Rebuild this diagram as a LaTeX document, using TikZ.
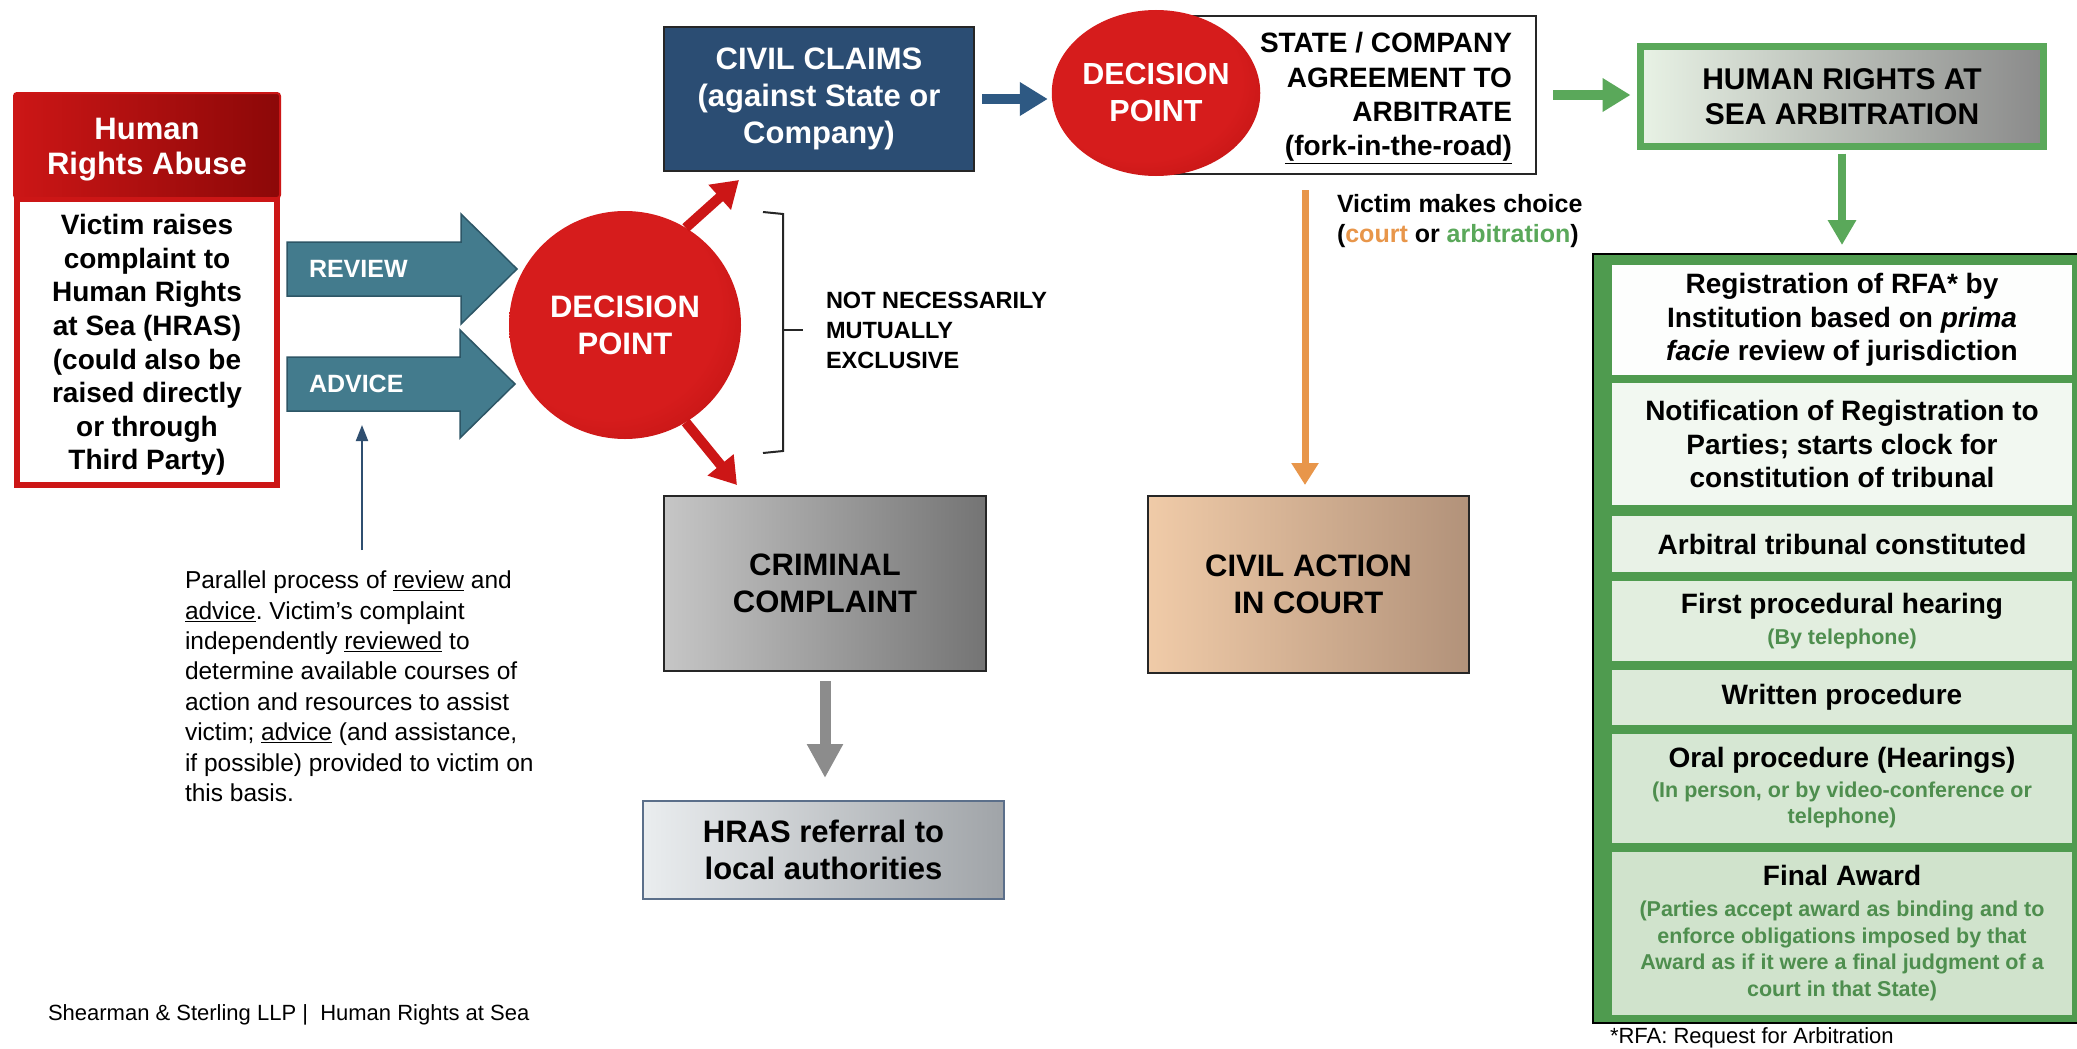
\documentclass[tikz,border=0pt]{standalone}
\usepackage{fontspec}
\setmainfont{Liberation Sans}
\usetikzlibrary{shapes.geometric,arrows.meta,calc}
\frenchspacing
\newcommand\myfs[2]{\fontsize{#1pt}{#2pt}\selectfont}
\definecolor{hrared}{HTML}{CC1616}
\definecolor{hradark}{HTML}{8C0808}
\definecolor{dpin}{HTML}{D61C1C}
\definecolor{dpout}{HTML}{A00707}
\definecolor{arrteal}{HTML}{437B8D}
\definecolor{arrtealdk}{HTML}{2D5666}
\definecolor{ccblue}{HTML}{2B4D73}
\definecolor{blarrow}{HTML}{2E5983}
\definecolor{grn}{HTML}{5AA85A}
\definecolor{grnframe}{HTML}{4F9B4F}
\definecolor{grntext}{HTML}{4E8E4E}
\definecolor{orng}{HTML}{E8964A}
\definecolor{annot}{HTML}{2F4F70}
\definecolor{refborder}{HTML}{5B6F8A}
\definecolor{arbL}{HTML}{E8F2E5}
\definecolor{arbR}{HTML}{8A8A8A}
\definecolor{crtL}{HTML}{F0CBA8}
\definecolor{crtR}{HTML}{B2927A}
\definecolor{crimL}{HTML}{C6C6C6}
\definecolor{crimR}{HTML}{747474}
\definecolor{refL}{HTML}{EAEDEF}
\definecolor{refR}{HTML}{A0A4A8}
\definecolor{rowa}{HTML}{FDFEFD}
\definecolor{rowb}{HTML}{F2F8F1}
\definecolor{rowc}{HTML}{E9F2E7}
\definecolor{rowd}{HTML}{E2EEDF}
\definecolor{rowe}{HTML}{DCEAD9}
\definecolor{rowf}{HTML}{D6E7D3}
\definecolor{rowg}{HTML}{D0E3CC}
\pgfdeclareradialshading{dpshade}{\pgfpoint{-6bp}{6bp}}{color(0bp)=(dpin); color(24bp)=(dpin); color(50bp)=(dpout); color(60bp)=(dpout)}
\newcommand\subt[1]{{\color{grntext}\myfs{21.5}{26}#1}}
\tikzset{
  capbox/.style={draw=black!85, line width=2pt, font=\bfseries\myfs{31}{36.5}, align=center},
  dp/.style={ellipse, shade, shading=dpshade, text=white, font=\bfseries\myfs{31}{37}, align=center},
  blkarrow/.style={fill=arrteal, draw=arrtealdk, line width=1.5pt},
  rowbox/.style={minimum width=460pt, font=\bfseries\myfs{28}{33.5}, align=center},
  redarr/.style={draw=hrared, line width=10pt, -{Triangle[width=32pt,length=26pt]}},
  bluarr/.style={draw=blarrow, line width=10pt, -{Triangle[width=32pt,length=28pt]}},
  grnarr/.style={draw=grn, line width=10pt, -{Triangle[width=32pt,length=28pt]}},
  grnarrv/.style={draw=grn, line width=8pt, -{Triangle[width=27pt,length=25pt]}},
  orarr/.style={draw=orng, line width=7pt, -{Triangle[width=26pt,length=22pt]}},
  gryarr/.style={draw=black!45, line width=11pt, -{Triangle[width=34pt,length=34pt]}},
  annarr/.style={draw=annot, line width=2pt, -{Triangle[width=12pt,length=16pt]}},
}
\begin{document}
\begin{tikzpicture}[x=1pt, y=-1pt, every node/.style={inner sep=0pt, outer sep=0pt}]
\useasboundingbox (0,0) rectangle (2077,1049);
\fill[white] (0,0) rectangle (2077,1049);

% Human rights abuse box
\node[draw=hrared, line width=6pt, fill=white, minimum width=260pt, minimum height=286pt] (hrabody) at (147,342) {};
\node[draw=hrared, line width=2pt, rounded corners=3pt, left color=hrared, right color=hradark, minimum width=266pt, minimum height=105pt] (hrahead) at (147,145.5) {};
\node[font=\bfseries\myfs{31}{35}, text=white, align=center] (hratitle) at (147,150) {Human\\Rights Abuse};
\node[font=\bfseries\myfs{28}{33.6}, align=center] (hratext) at (147,345) {Victim raises\\complaint to\\Human Rights\\at Sea (HRAS)\\(could also be\\raised directly\\or through\\Third Party)};

% Review / advice block arrows
\draw[blkarrow] (287,242) -- (461,242) -- (461,214) -- (517,269) -- (461,324) -- (461,296) -- (287,296) -- cycle;
\draw[blkarrow] (287,357) -- (460,357) -- (460,330) -- (515,384) -- (460,438) -- (460,411) -- (287,411) -- cycle;
\node[font=\bfseries\myfs{25}{30}, text=white, anchor=west] (rev) at (309,269) {REVIEW};
\node[font=\bfseries\myfs{25}{30}, text=white, anchor=west] (adv) at (309,384) {ADVICE};

% Decision point 1
\node[dp, minimum width=232pt, minimum height=228pt] (dp1) at (625,325) {DECISION\\POINT};

% annotation
\node[font=\myfs{24.5}{30.4}, align=left, anchor=north west] (ann) at (185,571) {Parallel process of \underline{review} and\\\underline{advice}. Victim’s complaint\\independently \underline{reviewed} to\\determine available courses of\\action and resources to assist\\victim; \underline{advice} (and assistance,\\if possible) provided to victim on\\this basis.};
\coordinate (aS) at (362,550);
\coordinate (advB) at (362,411);
\draw[annarr, shorten >=14pt] (aS) -- (advB);

% civil claims, criminal complaint, red arrows
\node[capbox, fill=ccblue, text=white, minimum width=310pt, minimum height=144pt, font=\bfseries\myfs{31}{37}] (cc) at (819,99) {CIVIL CLAIMS\\(against State or\\Company)};
\node[capbox, left color=crimL, right color=crimR, minimum width=322pt, minimum height=175pt] (crim) at (825,583.5) {CRIMINAL\\COMPLAINT};
\coordinate (t1) at (739,180);
\coordinate (t2) at (737,485);
\draw[redarr] (dp1.58) -- (t1);
\draw[redarr] (dp1.-58) -- (t2);

% bracket
\draw[black!85, line width=2pt] (763,212) -- (783,214) -- (783,451) -- (763,453);
\draw[black!85, line width=2pt] (783,330) -- (803,330);
\node[font=\bfseries\myfs{23.5}{30}, align=left, anchor=west] (nne) at (826,330) {NOT NECESSARILY\\MUTUALLY\\EXCLUSIVE};

% referral
\node[capbox, draw=refborder, left color=refL, right color=refR, minimum width=361pt, minimum height=98pt] (ref) at (823.5,850) {HRAS referral to\\local authorities};
\draw[gryarr, shorten <=10pt, shorten >=23pt] (crim.south) -- (crim.south |- ref.north);

% state / company + decision 2
\node[draw=black!85, line width=2pt, fill=white, minimum width=375pt, minimum height=158pt] (stbox) at (1348.5,95) {};
\node[font=\bfseries\myfs{28}{34.3}, align=right, anchor=east] (sttext) at (1512,98) {STATE / COMPANY\\AGREEMENT TO\\ARBITRATE\\\underline{(fork-in-the-road)}};
\node[dp, minimum width=188pt, minimum height=166pt, font=\bfseries\myfs{30.5}{37}] (dp2) at (1156,93) {DECISION\\POINT};
\draw[bluarr, shorten <=8pt, shorten >=4pt] (cc.east) -- (cc.east -| dp2.west);

% court
\node[capbox, left color=crtL, right color=crtR, minimum width=321pt, minimum height=177pt] (court) at (1308.5,584.5) {CIVIL ACTION\\IN COURT};
\node[font=\bfseries\myfs{25}{30}, align=left, anchor=west] (choice) at (1337,221) {Victim makes choice\\(\textcolor{orng}{court} or \textcolor{grn}{arbitration})};
\coordinate (oS) at (1305,190);
\draw[orarr, shorten >=11pt] (oS) -- (oS |- court.north);

% arbitration
\node[draw=grn, line width=7pt, left color=arbL, right color=arbR, minimum width=403pt, minimum height=100pt, font=\bfseries\myfs{30}{35}, align=center] (arb) at (1842,96.5) {HUMAN RIGHTS AT\\SEA ARBITRATION};
\draw[grnarr, shorten <=17pt, shorten >=10pt] (stbox.east) -- (stbox.east -| arb.west);

\node[fill=grnframe, draw=black, line width=1.5pt, minimum width=507pt, minimum height=769pt] (lst) at (1846.5,638.5) {};
\draw[grnarrv, shorten <=7pt, shorten >=9pt] (arb.south) -- (arb.south |- lst.north);

\node[rowbox, fill=rowa, minimum height=110pt] (r1) at (1842,320) {Registration of RFA* by\\Institution based on \textit{prima}\\\textit{facie} review of jurisdiction};
\node[rowbox, fill=rowb, minimum height=122pt] (r2) at (1842,444) {Notification of Registration to\\Parties; starts clock for\\constitution of tribunal};
\node[rowbox, fill=rowc, minimum height=56pt] (r3) at (1842,544) {Arbitral tribunal constituted};
\node[rowbox, fill=rowd, minimum height=80pt] (r4) at (1842,621) {First procedural hearing\\[-2pt]\subt{(By telephone)}};
\node[rowbox, fill=rowe, minimum height=55pt] (r5) at (1842,697.5) {Written procedure};
\node[rowbox, fill=rowf, minimum height=109pt] (r6) at (1842,788) {Oral procedure (Hearings)\\[-4pt]\subt{(In person, or by video-conference or}\\[-7pt]\subt{telephone)}};
\node[rowbox, fill=rowg, minimum height=163pt] (r7) at (1842,933) {Final Award\\[-2pt]\subt{(Parties accept award as binding and to}\\[-7pt]\subt{enforce obligations imposed by that}\\[-7pt]\subt{Award as if it were a final judgment of a}\\[-7pt]\subt{court in that State)}};

% footers
\node[font=\myfs{22}{26}, anchor=west] (foot) at (48,1015) {Shearman \& Sterling LLP |\ \ Human Rights at Sea};
\node[font=\myfs{22}{26}, anchor=base west] (rfa) at (1610,1043) {*RFA: Request for Arbitration};
\end{tikzpicture}
\end{document}
